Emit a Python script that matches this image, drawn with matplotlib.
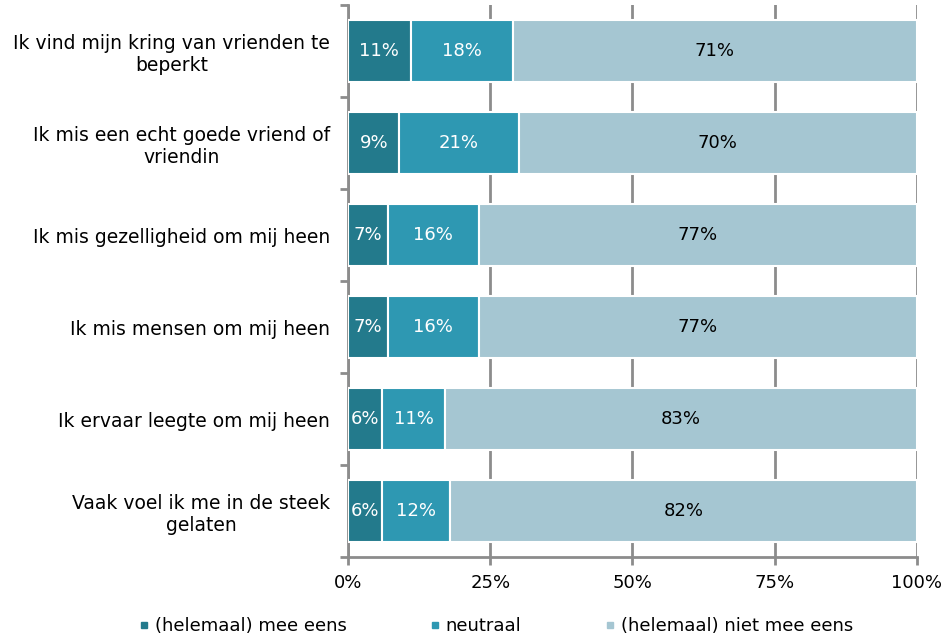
import matplotlib.pyplot as plt
from matplotlib.lines import Line2D

categories = [
    "Ik vind mijn kring van vrienden te\nbeperkt",
    "Ik mis een echt goede vriend of\nvriendin",
    "Ik mis gezelligheid om mij heen",
    "Ik mis mensen om mij heen",
    "Ik ervaar leegte om mij heen",
    "Vaak voel ik me in de steek\ngelaten",
]
eens = [11, 9, 7, 7, 6, 6]
neutraal = [18, 21, 16, 16, 11, 12]
niet_eens = [71, 70, 77, 77, 83, 82]
series_names = ["(helemaal) mee eens", "neutraal", "(helemaal) niet mee eens"]
colors = ["#237a8c", "#2e98b2", "#a5c6d2"]
text_colors = ["white", "white", "black"]
grey = "#8c8c8c"
fs = 13

plt.rcParams["font.family"] = ["DejaVu Sans"]
fig = plt.figure(figsize=(9.46, 6.39), dpi=100)
ax = fig.add_axes([0.368, 0.128, 0.601, 0.864])

ypos = list(range(len(categories)))
left = [0] * len(categories)
for vals, col, tcol, name in zip([eens, neutraal, niet_eens], colors, text_colors, series_names):
    bars = ax.barh(ypos, vals, left=left, height=0.67, color=col, edgecolor="white",
                   linewidth=1.5, label=name, zorder=3)
    for b, v in zip(bars, vals):
        ax.text(b.get_x() + b.get_width() / 2, b.get_y() + b.get_height() / 2, f"{v}%",
                ha="center", va="center", color=tcol, fontsize=fs, zorder=4)
    left = [l + v for l, v in zip(left, vals)]

ax.set_xlim(0, 100)
ax.set_ylim(len(categories) - 0.5, -0.5)
ax.set_xticks([0, 25, 50, 75, 100])
ax.set_xticklabels(["0%", "25%", "50%", "75%", "100%"], fontsize=fs)
ax.set_yticks(ypos)
ax.set_yticklabels(categories, fontsize=13.5, ha="right", multialignment="center")
ax.tick_params(axis="y", length=0, pad=13)
ax.set_yticks([i - 0.5 for i in range(len(categories) + 1)], minor=True)
ax.tick_params(axis="y", which="minor", length=6, width=2, color=grey)
ax.tick_params(axis="x", length=6, width=2, color=grey, pad=6)
ax.grid(axis="x", color=grey, linewidth=2, zorder=0)
for s in ["top", "right"]:
    ax.spines[s].set_visible(False)
for s in ["left", "bottom"]:
    ax.spines[s].set_color(grey)
    ax.spines[s].set_linewidth(2)

handles = [Line2D([0], [0], marker="s", color="none", markerfacecolor=c, markeredgecolor=c,
                  markersize=5) for c in colors]
fig.legend(handles, series_names, loc="center", bbox_to_anchor=(0.524, 0.02), ncol=3,
           frameon=False, fontsize=fs, handlelength=0.6, handletextpad=0.3, columnspacing=4.6)

fig.savefig("out.png", dpi=100)
